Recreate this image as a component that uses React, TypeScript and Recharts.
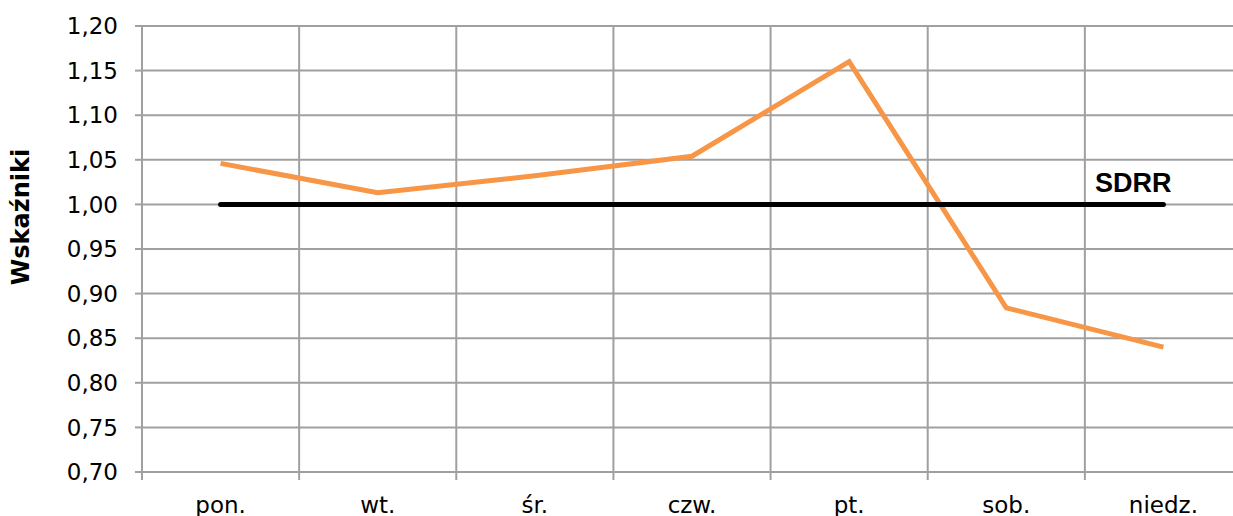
import { LineChart, Line, XAxis, YAxis, CartesianGrid } from "recharts";

const days = ["pon.", "wt.", "śr.", "czw.", "pt.", "sob.", "niedz."];
const wskazniki = [1.046, 1.013, 1.032, 1.054, 1.16, 0.884, 0.84];
const sdrr = [1, 1, 1, 1, 1, 1, 1];
const yTicks = [0.7, 0.75, 0.8, 0.85, 0.9, 0.95, 1.0, 1.05, 1.1, 1.15, 1.2];
const xBounds = [0, 1, 2, 3, 4, 5, 6, 7];

const GRID = "#a0a0a0";
const PLOT_W = 1100;
const HALF_BAND = PLOT_W / days.length / 2;

const rows = days.map((d, i) => ({ x: i + 0.5, day: d, value: wskazniki[i], sdrr: sdrr[i] }));

function DayTick(props: any) {
  const { x, y, payload } = props;
  const label = days[payload.value];
  if (!label) return <g />;
  return (
    <text x={x + HALF_BAND} y={y + 31} textAnchor="middle" fontSize={23} fontFamily="DejaVu Sans" fill="#000">
      {label}
    </text>
  );
}

function SdrrLabel(props: any) {
  const { x, y, index } = props;
  if (index !== days.length - 1) return null;
  return (
    <text x={x + 8} y={y - 12} textAnchor="end" fontSize={27} fontWeight="bold" fontFamily="Liberation Sans" fill="#000">
      SDRR
    </text>
  );
}

export default function App() {
  return (
    <div style={{ position: "absolute", left: 0, top: 0, width: 1233, height: 516, overflow: "hidden", background: "#fff" }}>
      <LineChart width={1260} height={516} data={rows} margin={{ top: 26, right: 18, left: 0, bottom: 0 }}>
        <CartesianGrid stroke={GRID} strokeWidth={2} />
        <XAxis
          dataKey="x"
          type="number"
          domain={[0, 7]}
          ticks={xBounds}
          interval={0}
          height={44}
          tickSize={8}
          tick={<DayTick />}
          axisLine={{ stroke: GRID, strokeWidth: 2 }}
          tickLine={{ stroke: GRID, strokeWidth: 2 }}
        />
        <YAxis
          type="number"
          domain={[0.7, 1.2]}
          ticks={yTicks}
          interval={0}
          width={142}
          tickSize={7}
          tickMargin={17}
          tickFormatter={(v: number) => v.toFixed(2).replace(".", ",")}
          tick={{ fontSize: 23, fontFamily: "DejaVu Sans", fill: "#000" }}
          axisLine={{ stroke: GRID, strokeWidth: 2 }}
          tickLine={{ stroke: GRID, strokeWidth: 2 }}
          label={{
            content: () => (
              <text
                x={21}
                y={217}
                transform="rotate(-90 21 217)"
                textAnchor="middle"
                dominantBaseline="central"
                fontSize={24}
                fontWeight="bold"
                fontFamily="DejaVu Sans"
                fill="#000"
              >
                Wskaźniki
              </text>
            ),
          }}
        />
        <Line
          type="linear"
          dataKey="value"
          stroke="#F79646"
          strokeWidth={5}
          dot={false}
          isAnimationActive={false}
        />
        <Line
          type="linear"
          dataKey="sdrr"
          stroke="#000"
          strokeWidth={5}
          strokeLinecap="round"
          dot={false}
          label={<SdrrLabel />}
          isAnimationActive={false}
        />
      </LineChart>
    </div>
  );
}
